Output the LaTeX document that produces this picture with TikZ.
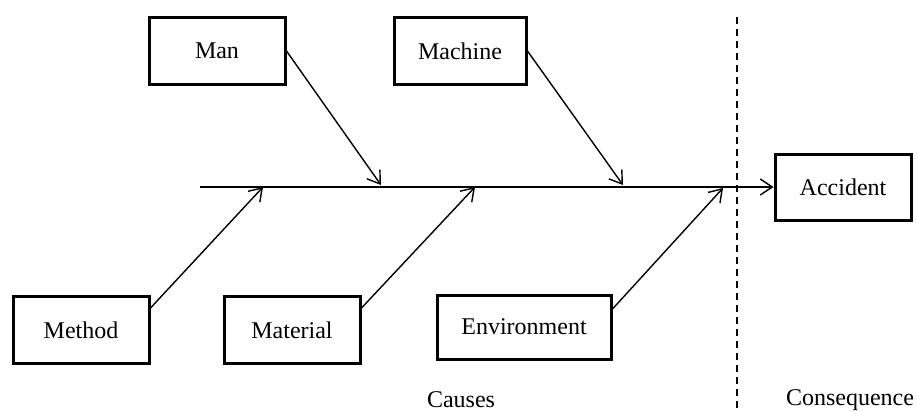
\documentclass[tikz,border=0pt]{standalone}
\usepackage{fontspec}
\setmainfont{Liberation Serif}
\usetikzlibrary{arrows.meta}
\begin{document}
\begin{tikzpicture}[x=0.5pt,y=-0.5pt,
  factor/.style={draw,line width=1.5pt,minimum width=68pt,minimum height=33.5pt,font=\fontsize{12pt}{14pt}\selectfont},
  label/.style={font=\fontsize{12pt}{14pt}\selectfont},
  bone/.style={line width=0.7pt,-{Straight Barb[length=6pt,width=8pt]}}]
\useasboundingbox (0,0) rectangle (917,412);
\node[factor]
(man) at (217,51) {Man};
\node[factor,minimum width=66pt]
(machine) at (460,51) {Machine};
\node[factor]
(method) at (81,330) {Method};
\node[factor]
(material) at (292,330) {Material};
\node[factor,minimum width=87pt,minimum height=32pt]
(environment) at (524,327) {Environment};
\node[factor,minimum height=33pt]
(accident) at (843,187) {Accident};
\node[label]
(causes) at (461,400) {Causes};
\node[label]
(consequence) at (850,400) {Consequence};
\coordinate (spine) at (200,187);
\coordinate (b1) at (263,187);
\coordinate (b2) at (381,185);
\coordinate (b3) at (475,187);
\coordinate (b4) at (623,185);
\coordinate (b5) at (723,188);
\coordinate (top) at (737,17);
\coordinate (bottom) at (737,412);
\draw[bone](spine) -- (accident);
\draw[bone](man.east) -- (b2);
\draw[bone](machine.east) -- (b4);
\draw[bone]([yshift=11pt]method.east) -- (b1);
\draw[bone]([yshift=11pt]material.east) -- (b3);
\draw[bone]([yshift=9pt]environment.east) -- (b5);
\draw[line width=0.7pt,dash pattern=on 3.5pt off 2.5pt](top) -- (bottom);
\end{tikzpicture}
\end{document}
